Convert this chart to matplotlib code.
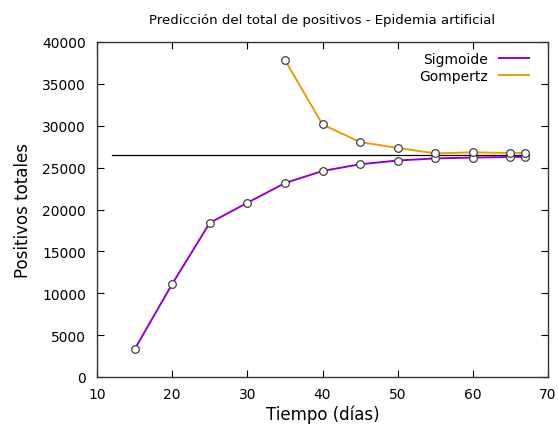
import matplotlib
matplotlib.use("Agg")
import matplotlib.pyplot as plt

# Data
dias = [15, 20, 25, 30, 35, 40, 45, 50, 55, 60, 65, 67]
sigmoide = [3300, 11100, 18400, 20800, 23150, 24600, 25400, 25850, 26100, 26200, 26270, 26280]

dias_gomp = [35, 40, 45, 50, 55, 60, 65, 67]
gompertz = [37850, 30150, 28050, 27350, 26700, 26820, 26750, 26750]

referencia = 26500
ref_x = [12, 67.5]

fig = plt.figure(figsize=(5.58, 4.31), dpi=100)
ax = fig.add_axes([97 / 558, 1 - 378 / 431, 451 / 558, 335 / 431])

ax.plot(ref_x, [referencia, referencia], color='black', lw=0.9, zorder=1)
ax.plot(dias, sigmoide, color='#9400D3', lw=1.4, label='Sigmoide', zorder=2)
ax.plot(dias_gomp, gompertz, color='#E69F00', lw=1.4, label='Gompertz', zorder=2)
ax.plot(dias, sigmoide, 'o', ms=5.5, mfc='white', mec='#404040', mew=0.9, zorder=3)
ax.plot(dias_gomp, gompertz, 'o', ms=5.5, mfc='white', mec='#404040', mew=0.9, zorder=3)

ax.set_xlim(10, 70)
ax.set_ylim(0, 40000)
ax.set_xticks(range(10, 71, 10))
ax.set_yticks(range(0, 40001, 5000))
ax.tick_params(direction='in', top=True, right=True, length=5, labelsize=10, width=0.8)
ax.tick_params(axis='x', pad=7)
ax.tick_params(axis='y', pad=8)
for s in ax.spines.values():
    s.set_color('#333333')
    s.set_linewidth(1.0)

ax.set_xlabel('Tiempo (días)', fontsize=12, labelpad=3)
ax.set_ylabel('Positivos totales', fontsize=12, labelpad=7)
ax.set_title('Predicción del total de positivos - Epidemia artificial', fontsize=9.5, pad=14)

ax.legend(loc='upper right', bbox_to_anchor=(0.98, 1.0), frameon=False, markerfirst=False,
          fontsize=10, handlelength=2.2, borderaxespad=0.3, labelspacing=0.2)

fig.savefig('out.png', dpi=100)
